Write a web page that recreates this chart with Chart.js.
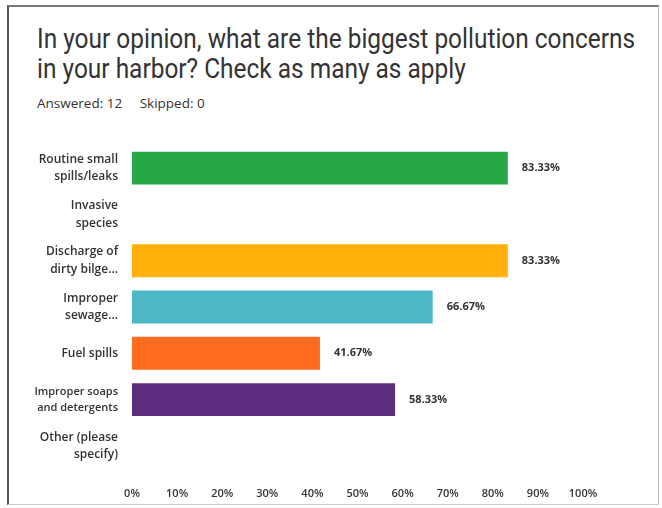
<!DOCTYPE html>
<html>
<head>
<meta charset="utf-8">
<script src="https://cdn.jsdelivr.net/npm/chart.js@4.4.1/dist/chart.umd.min.js"></script>
<style>
  html, body { margin: 0; padding: 0; background: #fff; }
  body { width: 662px; height: 508px; position: relative; overflow: hidden; }
  .frame {
    position: absolute; left: 7px; top: 5px; width: 649px; height: 497px;
    border-left: 2px solid #555; border-top: 2px solid #777;
    border-right: 1px solid #bbb; border-bottom: 1px solid #ccc;
  }
  .title {
    position: absolute; left: 37px; top: 24px; margin: 0; white-space: nowrap;
    font-family: Roboto, "Liberation Sans", sans-serif; font-weight: 400;
    font-size: 27px; line-height: 30px; color: #333;
    transform: scaleX(0.905); transform-origin: left top;
  }
  .meta {
    position: absolute; left: 37px; top: 94px; white-space: nowrap;
    font-family: "Open Sans", sans-serif; font-size: 13.5px; color: #333; font-weight: 500;
  }
  .meta span { margin-right: 14px; }
  #chart { position: absolute; left: 0; top: 0; }
</style>
</head>
<body>
<div class="frame"></div>
<h1 class="title">In your opinion, what are the biggest pollution concerns<br>in your harbor? Check as many as apply</h1>
<div class="meta"><span>Answered: 12</span> Skipped: 0</div>
<canvas id="chart" width="662" height="508"></canvas>
<script>
// answer choices (two-line labels as in the survey)
const categories = [
  ["Routine small", "spills/leaks"],
  ["Invasive", "species"],
  ["Discharge of", "dirty bilge..."],
  ["Improper", "sewage..."],
  ["Fuel spills"],
  ["Improper soaps", "and detergents"],
  ["Other (please", "specify)"]
];
const percents = [83.33, 0, 83.33, 66.67, 41.67, 58.33, 0];
const barColors = ["#27a847", "#999999", "#ffb10a", "#4db8c5", "#ff6b1f", "#5c2c7f", "#999999"];
const xTicks = [0, 10, 20, 30, 40, 50, 60, 70, 80, 90, 100];

// draw "83.33%" etc to the right of each bar
const valueLabels = {
  id: "valueLabels",
  afterDatasetsDraw(chart) {
    const ctx = chart.ctx;
    const meta = chart.getDatasetMeta(0);
    ctx.save();
    ctx.font = "bold 11px 'Open Sans', sans-serif";
    ctx.fillStyle = "#333";
    ctx.textBaseline = "middle";
    meta.data.forEach((bar, i) => {
      if (!percents[i]) return;
      ctx.fillText(percents[i].toFixed(2) + "%", bar.x + 14, bar.y);
    });
    ctx.restore();
  }
};

const ctx = document.getElementById("chart").getContext("2d");
const chart = new Chart(ctx, {
  type: "bar",
  data: {
    labels: categories,
    datasets: [{
      data: percents,
      backgroundColor: barColors,
      categoryPercentage: 1,
      barPercentage: 0.71
    }]
  },
  options: {
    indexAxis: "y",
    responsive: false,
    animation: false,
    layout: { padding: { top: 145, right: 79, bottom: 9, left: 0 } },
    plugins: { legend: { display: false }, tooltip: { enabled: false } },
    scales: {
      x: {
        min: 0, max: 100,
        afterBuildTicks(scale) { scale.ticks = xTicks.map(v => ({ value: v })); },
        afterFit(scale) { scale.height = 30; },
        grid: { display: false },
        border: { display: false },
        ticks: {
          padding: 10,
          color: "#333",
          font: { family: "'Open Sans', sans-serif", size: 11, weight: "600" },
          callback: v => v + "%"
        }
      },
      y: {
        afterFit(scale) { scale.width = 132; },
        grid: { display: false },
        border: { display: false },
        ticks: {
          padding: 6,
          color: "#333",
          font: (c) => ({
            family: "'Open Sans', sans-serif",
            size: c.index === 5 ? 11 : 12,
            weight: "600",
            lineHeight: 1.45
          })
        }
      }
    }
  },
  plugins: [valueLabels]
});
</script>
</body>
</html>
